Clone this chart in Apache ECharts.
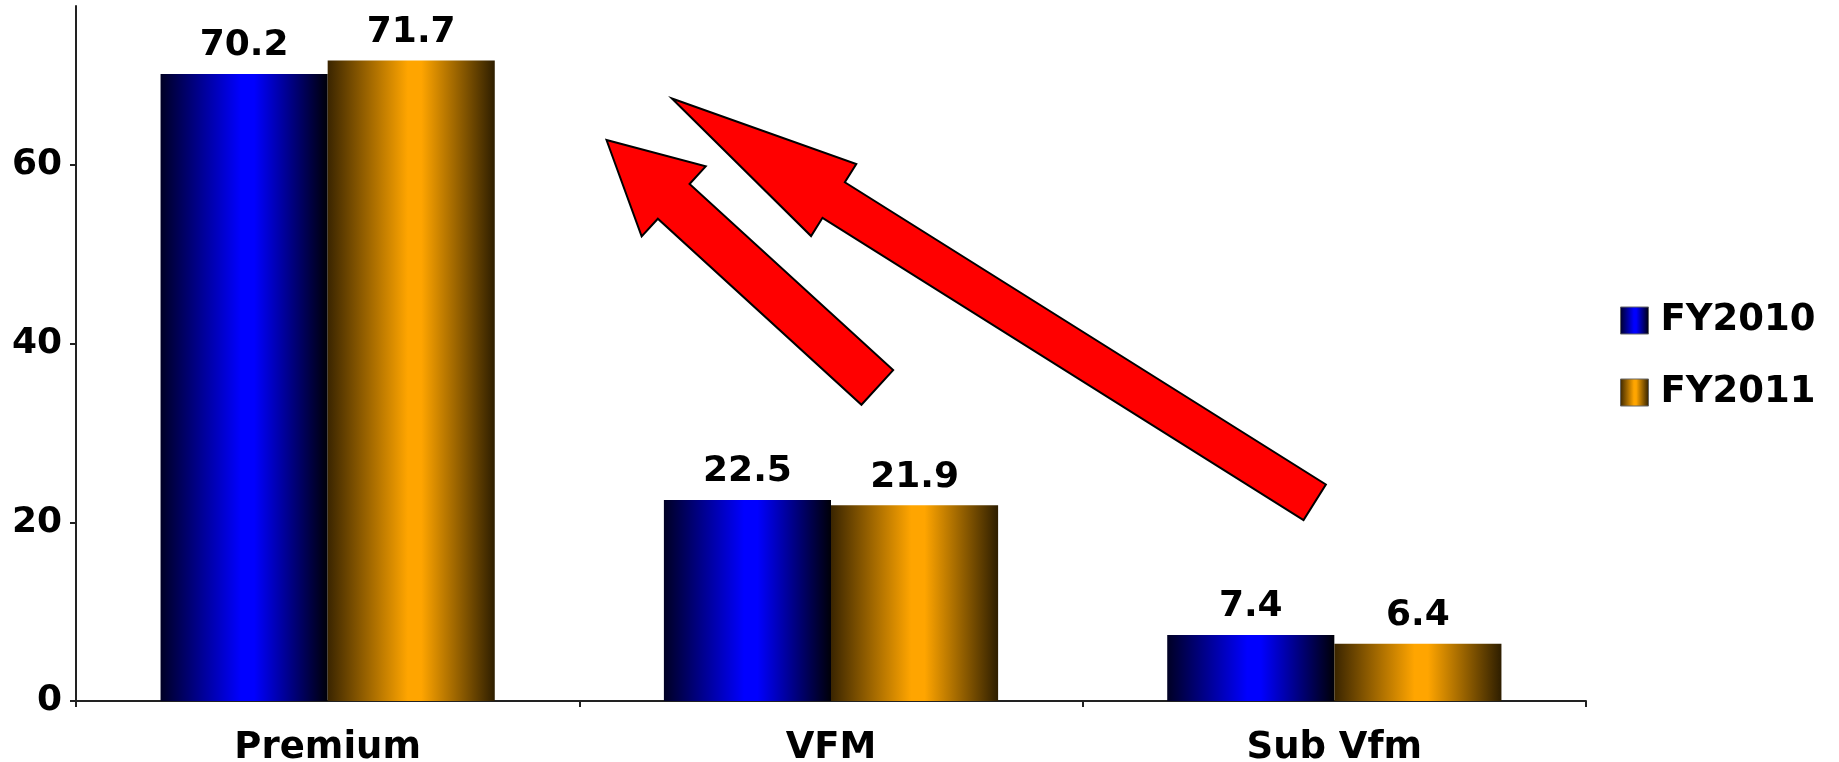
<!DOCTYPE html>
<html>
<head>
<meta charset="utf-8">
<title>FY2010 vs FY2011</title>
<script src="https://cdn.jsdelivr.net/npm/echarts@6/dist/echarts.min.js"></script>
<style>
  html, body { margin: 0; padding: 0; background: #fff; }
  #chart { width: 1839px; height: 762px; }
</style>
</head>
<body>
<div id="chart"></div>
<script>
// Segment shares by fiscal year
const categories = ['Premium', 'VFM', 'Sub Vfm'];
const fy2010 = [70.2, 22.5, 7.4];
const fy2011 = [71.7, 21.9, 6.4];
const seriesNames = ['FY2010', 'FY2011'];
const yTicks = [0, 20, 40, 60];
const yMax = 77.8;

// Shift arrows: tail -> tip, in (category span, value) units
const arrowTips = [[1.054, 62.8], [1.184, 67.45]];
const arrowTails = [[1.592, 35.1], [2.461, 22.25]];

// Pixel sizes of each arrow: shaft width, head width, head length
const arrowLook = [
  { shaft: 47, head: 95, headLen: 91 },
  { shaft: 42, head: 85, headLen: 191 }
];

const FONT = 'DejaVu Sans';

function sheen(edgeL, mid, edgeR) {
  return new echarts.graphic.LinearGradient(0, 0, 1, 0, [
    { offset: 0, color: edgeL },
    { offset: 0.48, color: mid },
    { offset: 0.56, color: mid },
    { offset: 1, color: edgeR }
  ]);
}

const labelStyle = {
  show: true,
  position: 'top',
  distance: 10,
  fontFamily: FONT,
  fontWeight: 'bold',
  fontSize: 36,
  color: '#000',
  formatter: p => Number(p.value).toFixed(1)
};

const chart = echarts.init(document.getElementById('chart'), null, { renderer: 'canvas' });

chart.setOption({
  backgroundColor: '#ffffff',
  animation: false,
  grid: { left: 76, right: 253, top: 6, bottom: 61, containLabel: false, outerBoundsMode: 'none' },
  legend: {
    data: seriesNames,
    orient: 'vertical',
    left: 1615,
    top: 297,
    itemWidth: 28,
    itemHeight: 27,
    itemGap: 35,
    icon: 'rect',
    itemStyle: { borderColor: '#666', borderWidth: 1 },
    textStyle: { fontFamily: FONT, fontWeight: 'bold', fontSize: 37, color: '#000', padding: [0, 0, 0, 7] }
  },
  xAxis: [
    {
      type: 'category',
      data: categories,
      axisLine: { show: true, lineStyle: { color: '#222', width: 2 } },
      axisTick: { show: true, length: 6, lineStyle: { color: '#222', width: 2 } },
      axisLabel: { margin: 29, fontFamily: FONT, fontWeight: 'bold', fontSize: 37, color: '#000' },
      splitLine: { show: false }
    },
    { type: 'value', min: 0, max: 3, show: false }
  ],
  yAxis: {
    type: 'value',
    min: 0,
    max: yMax,
    interval: 20,
    axisLine: { show: true, lineStyle: { color: '#222', width: 2 } },
    axisTick: { show: true, length: 6, customValues: yTicks, lineStyle: { color: '#222', width: 2 } },
    axisLabel: {
      margin: 14, customValues: yTicks,
      fontFamily: FONT, fontWeight: 'bold', fontSize: 36, color: '#000'
    },
    splitLine: { show: false }
  },
  series: [
    {
      name: seriesNames[0],
      type: 'bar',
      data: fy2010,
      barGap: '0%',
      barCategoryGap: '33.6%',
      itemStyle: { color: sheen('#000024', '#0000ff', '#000008') },
      label: labelStyle
    },
    {
      name: seriesNames[1],
      type: 'bar',
      data: fy2011,
      barGap: '0%',
      barCategoryGap: '33.6%',
      itemStyle: { color: sheen('#3a2500', '#ffa500', '#2e1e00') },
      label: labelStyle
    },
    {
      type: 'custom',
      xAxisIndex: 1,
      yAxisIndex: 0,
      silent: true,
      z: 5,
      data: arrowTips.map((t, i) => [t[0], t[1], arrowTails[i][0], arrowTails[i][1]]),
      renderItem: function (params, api) {
        const look = arrowLook[params.dataIndex];
        const tip = api.coord([api.value(0), api.value(1)]);
        const tail = api.coord([api.value(2), api.value(3)]);
        const dx = tail[0] - tip[0], dy = tail[1] - tip[1];
        const len = Math.hypot(dx, dy);
        const ux = dx / len, uy = dy / len;      // along shaft, toward tail
        const px = -uy, py = ux;                  // perpendicular
        const bx = tip[0] + ux * look.headLen, by = tip[1] + uy * look.headLen;
        const hw = look.head / 2, sw = look.shaft / 2;
        const pts = [
          tip,
          [bx + px * hw, by + py * hw],
          [bx + px * sw, by + py * sw],
          [tail[0] + px * sw, tail[1] + py * sw],
          [tail[0] - px * sw, tail[1] - py * sw],
          [bx - px * sw, by - py * sw],
          [bx - px * hw, by - py * hw]
        ];
        return {
          type: 'polygon',
          shape: { points: pts },
          style: { fill: '#ff0000', stroke: '#000', lineWidth: 2, lineJoin: 'miter' }
        };
      }
    }
  ]
});
</script>
</body>
</html>
